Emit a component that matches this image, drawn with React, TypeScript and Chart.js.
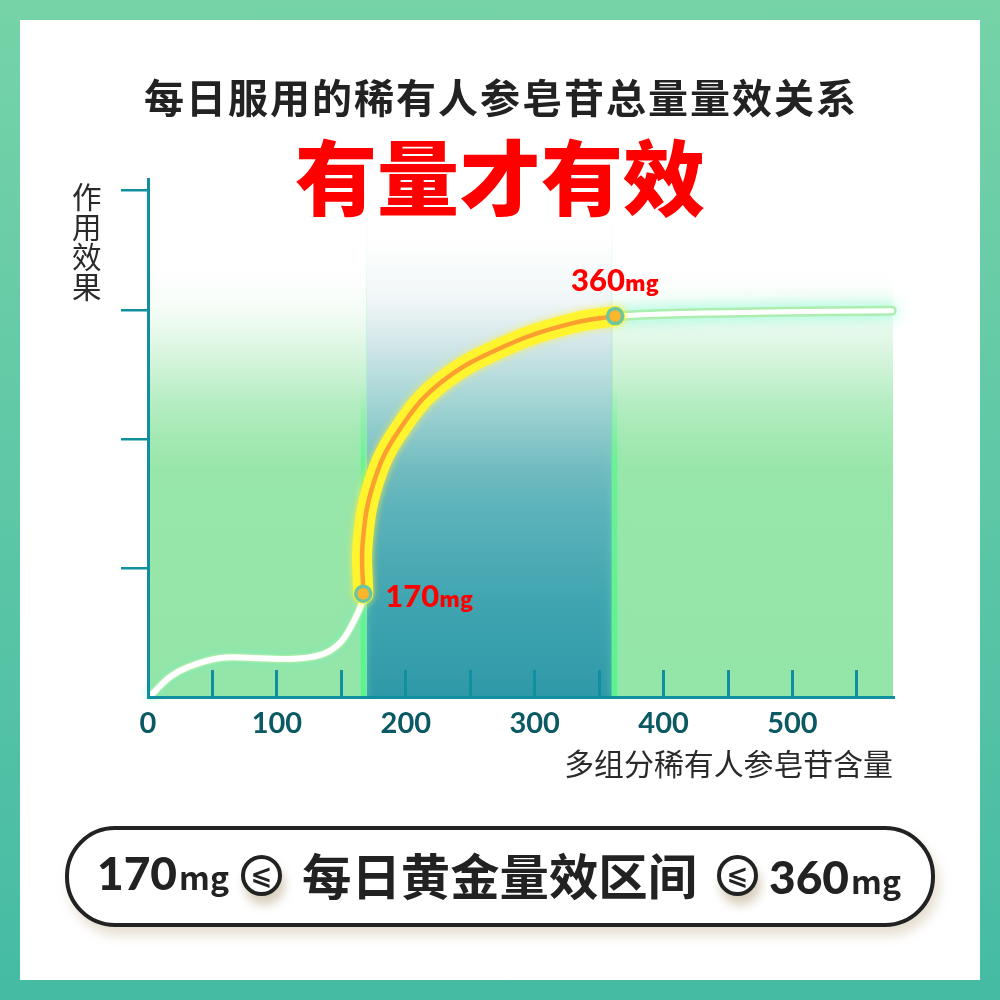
import { useEffect, useRef } from "react";
import Chart from "chart.js/auto";

const CJK = '"Noto Sans CJK SC", "Noto Sans", sans-serif';
const DIGITS = 'Lato, "Noto Sans CJK SC", sans-serif';

const xTicks = [0, 50, 100, 150, 200, 250, 300, 350, 400, 450, 500, 550];
const xLabels = ["0", "100", "200", "300", "400", "500"];
const yTicks = [1, 2, 3, 3.93];
const xMax = 578;
const yMax = 4.016;

const bandStart = 169.5;
const bandEnd = 360;
const regionTop = 3.75;
const edgeValues = [167, 362];

const lowCurve = [
  { x: 3, y: 0.02 }, { x: 17, y: 0.155 }, { x: 31, y: 0.232 }, { x: 56, y: 0.302 },
  { x: 82, y: 0.302 }, { x: 108, y: 0.295 }, { x: 134, y: 0.326 }, { x: 149, y: 0.419 },
  { x: 159, y: 0.574 }, { x: 166, y: 0.73 }, { x: 167, y: 0.8 },
];
const goldCurve = [
  { x: 167, y: 0.8 }, { x: 166.6, y: 1.2 }, { x: 175, y: 1.659 }, { x: 193.4, y: 2.047 },
  { x: 226.7, y: 2.434 }, { x: 278.7, y: 2.729 }, { x: 329.8, y: 2.899 }, { x: 362.4, y: 2.953 },
];
const flatCurve = [
  { x: 362.4, y: 2.953 }, { x: 400, y: 2.97 }, { x: 480, y: 2.985 }, { x: 577, y: 2.995 },
];
const markers = [
  { x: 167, y: 0.8 },
  { x: 362.4, y: 2.953 },
];
const markerValues = ["170", "360"];
const markerUnit = "mg";

const verticalGradient = (chart: any, stops: [number, string][]) => {
  const area = chart.chartArea;
  if (!area) return "transparent";
  const g = chart.ctx.createLinearGradient(0, area.top, 0, area.bottom);
  stops.forEach(([at, color]) => g.addColorStop(at, color));
  return g;
};

const greenStops: [number, string][] = [
  [0, "rgba(152,230,170,0)"],
  [0.176, "rgba(152,230,170,0)"],
  [0.253, "rgba(152,230,170,0.1)"],
  [0.33, "rgba(152,230,170,0.35)"],
  [0.427, "rgba(152,230,170,0.7)"],
  [0.504, "rgba(152,230,170,0.9)"],
  [0.562, "rgba(152,230,170,1)"],
  [1, "rgba(148,229,168,1)"],
];
const tealStops: [number, string][] = [
  [0, "rgba(255,255,255,0)"],
  [0.118, "rgba(255,255,255,1)"],
  [0.234, "rgb(240,246,247)"],
  [0.31, "rgb(213,232,234)"],
  [0.427, "rgb(165,213,213)"],
  [0.562, "rgb(112,187,191)"],
  [0.64, "rgb(92,178,187)"],
  [0.813, "rgb(64,165,176)"],
  [1, "rgb(47,152,168)"],
];
const hairStops: [number, string][] = [
  [0, "rgba(120,225,170,0)"],
  [0.2, "rgba(120,225,170,0.15)"],
  [0.5, "rgba(120,225,170,0.7)"],
  [1, "rgba(120,225,170,0.9)"],
];
const edgeStops: [number, string][] = [
  [0, "rgba(90,245,140,0)"],
  [0.4, "rgba(90,245,140,0)"],
  [0.55, "rgba(90,245,140,0.7)"],
  [1, "rgba(90,245,140,1)"],
];

// glow on the lines, set per dataset
const glowPlugin = {
  id: "glow",
  beforeDatasetDraw(chart: any, args: any) {
    const ds = chart.data.datasets[args.index];
    chart.ctx.save();
    if (ds.glowColor) {
      chart.ctx.shadowColor = ds.glowColor;
      chart.ctx.shadowBlur = ds.glowBlur;
    }
  },
  afterDatasetDraw(chart: any) {
    chart.ctx.restore();
  },
};

const markerLabelPlugin = {
  id: "markerLabels",
  afterDatasetsDraw(chart: any) {
    const { ctx, scales } = chart;
    const offsets = [
      { dx: 22, dy: 13 },
      { dx: -44, dy: -25 },
    ];
    ctx.save();
    ctx.fillStyle = "#ff0000";
    ctx.textBaseline = "alphabetic";
    markers.forEach((m, i) => {
      const px = scales.x.getPixelForValue(m.x) + offsets[i].dx;
      const py = scales.y.getPixelForValue(m.y) + offsets[i].dy;
      ctx.font = `900 31px ${DIGITS}`;
      ctx.fillText(markerValues[i], px, py);
      const w = ctx.measureText(markerValues[i]).width;
      ctx.font = `900 21px ${CJK}`;
      ctx.fillText(markerUnit, px + w, py);
    });
    ctx.restore();
  },
};

const Leq = () => (
  <span
    style={{
      display: "inline-flex",
      alignItems: "center",
      justifyContent: "center",
      position: "absolute",
      top: 25,
      width: 33,
      height: 33,
      border: "4px solid #222",
      borderRadius: "50%",
      background: "#fff",
      boxShadow: "3px 9px 10px rgba(170,150,110,0.45)",
      color: "#222",
      fontFamily: '"DejaVu Sans", sans-serif',
      fontWeight: 700,
      fontSize: 26,
      lineHeight: "33px",
    }}
  >
    ⩽
  </span>
);

const Amount = ({ value, left, top }: { value: string; left: number; top: number }) => (
  <span style={{ position: "absolute", left, top, fontFamily: DIGITS, fontWeight: 900, fontSize: 46, lineHeight: "60px", color: "#222", whiteSpace: "nowrap" }}>
    {value}
    <span style={{ fontFamily: CJK, fontWeight: 700, fontSize: 32, marginLeft: 2 }}>mg</span>
  </span>
);

export default function App() {
  const canvasRef = useRef<HTMLCanvasElement>(null);

  useEffect(() => {
    document.body.style.margin = "0";
    if (!canvasRef.current) return;

    const chart = new Chart(canvasRef.current, {
      type: "line",
      data: {
        datasets: [
          // markers, on top
          {
            data: markers,
            showLine: false,
            pointRadius: 7.5,
            pointBorderWidth: 3.5,
            pointBackgroundColor: "#fdb52c",
            pointBorderColor: "#6cc6a0",
            clip: false,
          },
          { data: goldCurve, borderColor: "#fb9f30", borderWidth: 4.5, tension: 0.4, pointRadius: 0, borderCapStyle: "round", clip: false },
          {
            data: goldCurve,
            borderColor: "#fff42e",
            borderWidth: 20,
            tension: 0.4,
            pointRadius: 0,
            borderCapStyle: "round",
            clip: false,
            glowColor: "rgba(255,240,60,0.9)",
            glowBlur: 7,
          },
          { data: lowCurve, borderColor: "#ffffff", borderWidth: 6, tension: 0.4, pointRadius: 0, borderCapStyle: "round", clip: false },
          { data: flatCurve, borderColor: "#ffffff", borderWidth: 5, tension: 0.4, pointRadius: 0, borderCapStyle: "round", clip: false },
          {
            data: lowCurve,
            borderColor: "#a6eca8",
            borderWidth: 9,
            tension: 0.4,
            pointRadius: 0,
            borderCapStyle: "round",
            clip: false,
            glowColor: "rgba(120,240,190,0.7)",
            glowBlur: 8,
          },
          {
            data: flatCurve,
            borderColor: "#aceeb0",
            borderWidth: 10,
            tension: 0.4,
            pointRadius: 0,
            borderCapStyle: "round",
            clip: false,
            glowColor: "rgba(120,250,205,0.9)",
            glowBlur: 16,
          },
          // glowing band edges, bright low down and a hairline higher up
          ...edgeValues.map((v) => ({
            data: [{ x: v, y: 0 }, { x: v, y: regionTop }],
            borderColor: (c: any) => verticalGradient(c.chart, edgeStops),
            borderWidth: 5,
            pointRadius: 0,
            clip: false,
            glowColor: "rgba(120,245,170,0.6)",
            glowBlur: 8,
          })),
          ...[bandStart, bandEnd].map((v) => ({
            data: [{ x: v, y: 0 }, { x: v, y: regionTop }],
            borderColor: (c: any) => verticalGradient(c.chart, hairStops),
            borderWidth: 1,
            pointRadius: 0,
          })),
          // background regions
          {
            data: [{ x: bandStart, y: regionTop }, { x: bandEnd, y: regionTop }],
            backgroundColor: (c: any) => verticalGradient(c.chart, tealStops),
            fill: "origin",
            borderWidth: 0,
            pointRadius: 0,
          },
          {
            data: [{ x: 0, y: regionTop }, { x: bandStart, y: regionTop }],
            backgroundColor: (c: any) => verticalGradient(c.chart, greenStops),
            fill: "origin",
            borderWidth: 0,
            pointRadius: 0,
          },
          {
            data: [{ x: bandEnd, y: regionTop }, { x: xMax, y: regionTop }],
            backgroundColor: (c: any) => verticalGradient(c.chart, greenStops),
            fill: "origin",
            borderWidth: 0,
            pointRadius: 0,
          },
        ] as any,
      },
      options: {
        responsive: false,
        animation: false,
        layout: { padding: { left: 0, top: 179, right: 107, bottom: 0 } },
        plugins: { legend: { display: false }, tooltip: { enabled: false } },
        scales: {
          x: {
            type: "linear",
            min: 0,
            max: xMax,
            afterFit: (s: any) => { s.height = 303; },
            afterBuildTicks: (s: any) => { s.ticks = xTicks.map((value) => ({ value })); },
            grid: { drawOnChartArea: false, color: "#10909f", lineWidth: 3, tickLength: -27, z: 1 },
            border: { color: "#10909f", width: 3, z: 2 },
            ticks: {
              autoSkip: false,
              maxRotation: 0,
              padding: 36,
              color: "#0b5963",
              font: { family: DIGITS, size: 29, weight: "bold" },
              callback: (v: any) => (xLabels.includes(String(v)) ? String(v) : ""),
            },
            title: {
              display: true,
              text: "多组分稀有人参皂苷含量",
              align: "end",
              color: "#2a2a2a",
              font: { family: CJK, size: 29.9 },
              padding: { top: 0, bottom: 218 },
            },
          },
          y: {
            type: "linear",
            min: 0,
            max: yMax,
            afterFit: (s: any) => { s.width = 148; },
            afterBuildTicks: (s: any) => { s.ticks = yTicks.map((value) => ({ value })); },
            grid: { drawOnChartArea: false, color: "#10909f", lineWidth: 2.5, tickLength: 27 },
            border: { color: "#10909f", width: 3, z: 2 },
            ticks: { display: false },
          },
        },
      } as any,
      plugins: [glowPlugin, markerLabelPlugin],
    });

    return () => chart.destroy();
  }, []);

  return (
    <div
      style={{
        position: "relative",
        width: 1000,
        height: 1000,
        overflow: "hidden",
        background: "linear-gradient(180deg, #76d3a8 0%, #45bba4 100%)",
        fontFamily: CJK,
      }}
    >
      <div style={{ position: "absolute", left: 20, top: 20, width: 960, height: 960, background: "#fff" }} />
      <canvas ref={canvasRef} width={1000} height={1000} style={{ position: "absolute", left: 0, top: 0, display: "block" }} />
      <div style={{ position: "absolute", left: 1, width: 1000, top: 69, textAlign: "center", fontSize: 40, letterSpacing: 2, lineHeight: "54px", fontWeight: 700, color: "#222" }}>
        每日服用的稀有人参皂苷总量量效关系
      </div>
      <div style={{ position: "absolute", left: 0, width: 1000, top: 124, textAlign: "center", fontSize: 82, lineHeight: "100px", fontWeight: 900, color: "#ff0000" }}>
        有量才有效
      </div>
      <div style={{ position: "absolute", left: 72, top: 180, width: 30, fontSize: 29.5, lineHeight: "30px", color: "#2a2a2a" }}>
        作用效果
      </div>
      <div
        style={{
          position: "absolute",
          left: 65,
          top: 826,
          width: 862,
          height: 93,
          border: "4px solid #222",
          borderRadius: 50,
          background: "#fff",
          boxShadow: "4px 8px 12px rgba(180,160,120,0.35)",
        }}
      >
        <Amount value="170" left={28} top={13} />
        <span style={{ position: "absolute", left: 172 }}><Leq /></span>
        <span style={{ position: "absolute", left: 233, top: 14, fontWeight: 700, fontSize: 49.4, lineHeight: "60px", color: "#222", whiteSpace: "nowrap" }}>
          每日黄金量效区间
        </span>
        <span style={{ position: "absolute", left: 648 }}><Leq /></span>
        <Amount value="360" left={700} top={17} />
      </div>
    </div>
  );
}
